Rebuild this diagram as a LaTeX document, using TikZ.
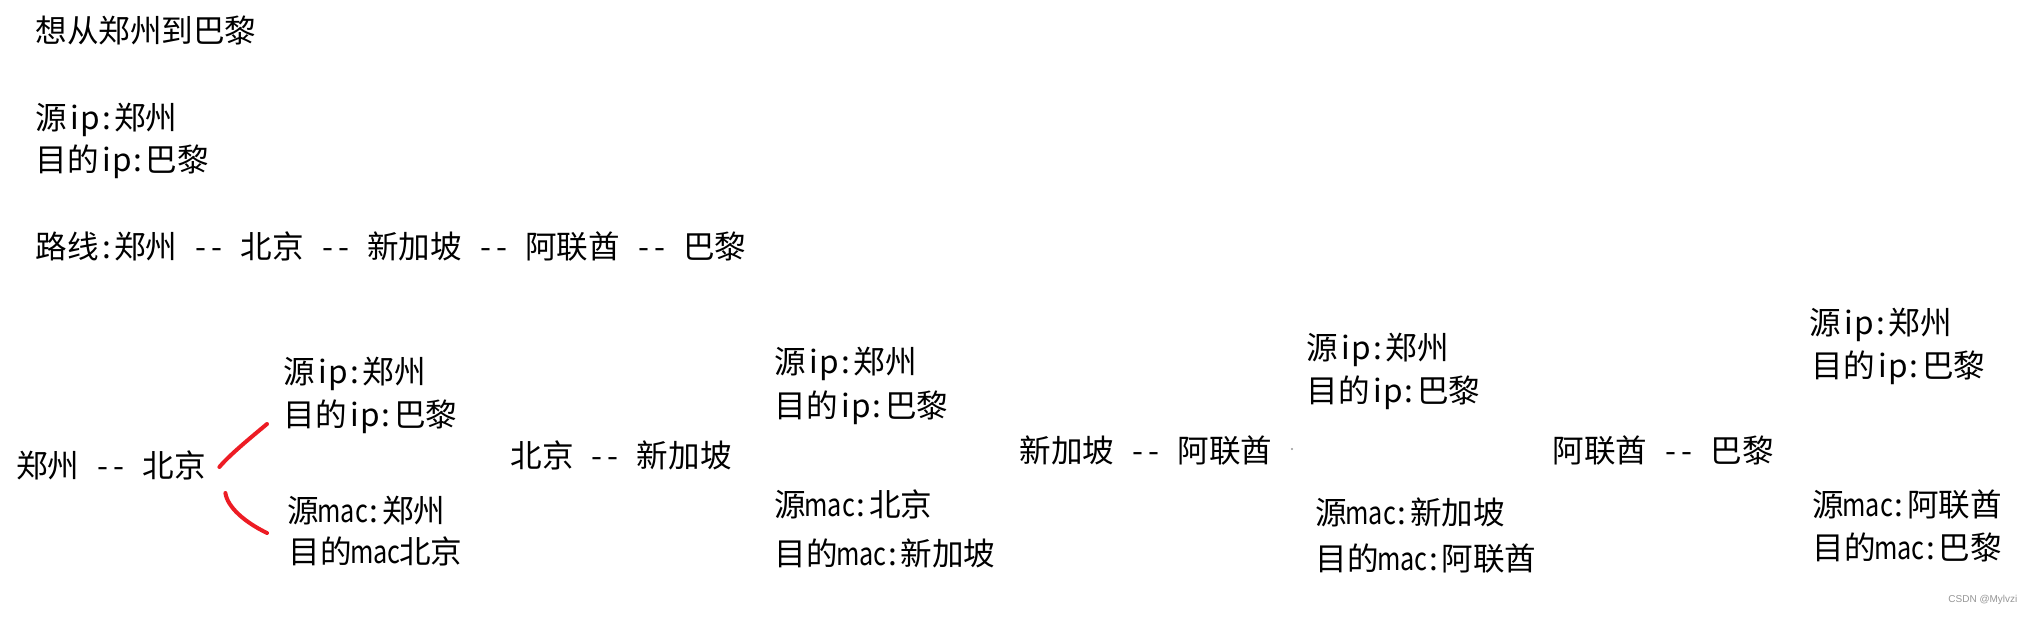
\documentclass[tikz,border=0pt]{standalone}
\usepackage{fontspec}
\usepackage{graphicx}
\setmainfont{Noto Sans CJK SC}
\newfontfamily\wmfont{Liberation Sans}
\usetikzlibrary{calc}
\newcommand\hc[1]{\makebox[0.5em]{#1}}
\newcommand\hsp{\hspace*{0.5em}}
\newcommand\dsh{\hsp\hc{-}\hc{-}\hsp}
\newcommand\ipc{\hc{i}\hc{p}\hc{:}}
\newcommand\macw{\makebox[1.5em]{\scalebox{0.8}[1]{mac}}}
\newcommand\cln{\hc{:}}
\definecolor{pen}{RGB}{237,28,36}
\definecolor{wm}{RGB}{150,150,150}
\tikzset{
  txt/.style={anchor=west, inner sep=0pt, text height=13.86pt, text depth=1.89pt,
    font=\fontsize{15.8pt}{18pt}\selectfont},
  redline/.style={draw=pen, line width=2pt, line cap=round, line join=round},
}
\begin{document}
\begin{tikzpicture}[x=0.5pt,y=-0.5pt]
\fill[white] (0,0) rectangle (2036,617);
\useasboundingbox (0,0) rectangle (2036,617);
% header
\node[txt] (h0) at (35,31) {想从郑州到巴黎};
\node[txt] (h1) at (35,118) {源\ipc 郑州};
\node[txt] (h2) at (35,160) {目的\ipc 巴黎};
\node[txt] (h3) at (35,247) {路线\cln 郑州\dsh 北京\dsh 新加坡\dsh 阿联酋\dsh 巴黎};
% hop 1
\node[txt] (g0) at (16,466) {郑州\dsh 北京};
\node[txt] (a0) at (283,372) {源\ipc 郑州};
\node[txt] (a1) at (283,415) {目的\ipc 巴黎};
\node[txt] (a2) at (287,511) {源\macw\cln 郑州};
\node[txt] (a3) at (288,552) {目的\macw 北京};
\draw[redline] ($(g0.east)+(13,1)$) .. controls ($(g0.east)+(23,-11)$) and ($(g0.east)+(45,-29)$) .. ($(a1.west)+(-16,9)$);
\draw[redline] ($(g0.east)+(19,27)$) .. controls ($(g0.east)+(21,41)$) and ($(g0.east)+(38,56)$) .. ($(a2.west)+(-20,22)$);
% hop 2
\node[txt] (g1) at (510,456) {北京\dsh 新加坡};
\node[txt] (b0) at (774,362) {源\ipc 郑州};
\node[txt] (b1) at (774,406) {目的\ipc 巴黎};
\node[txt] (b2) at (774,505) {源\macw\cln 北京};
\node[txt] (b3) at (774,554) {目的\macw\cln 新加坡};
% hop 3
\node[txt] (g2) at (1019,451) {新加坡\dsh 阿联酋};
\fill[wm] (1292,449) circle (1.2);
\node[txt] (c0) at (1306,348) {源\ipc 郑州};
\node[txt] (c1) at (1306,391) {目的\ipc 巴黎};
\node[txt] (c2) at (1315,513) {源\macw\cln 新加坡};
\node[txt] (c3) at (1315,559) {目的\macw\cln 阿联酋};
% hop 4
\node[txt] (g3) at (1552,451) {阿联酋\dsh 巴黎};
\node[txt] (d0) at (1809,323) {源\ipc 郑州};
\node[txt] (d1) at (1811,366) {目的\ipc 巴黎};
\node[txt] (d2) at (1812,505) {源\macw\cln 阿联酋};
\node[txt] (d3) at (1812,548) {目的\macw\cln 巴黎};
% watermark
\node[anchor=west, inner sep=0pt, text=wm, font=\wmfont\fontsize{5pt}{6pt}\selectfont] (wm) at (1948,600) {CSDN @Mylvzi};
\end{tikzpicture}
\end{document}
